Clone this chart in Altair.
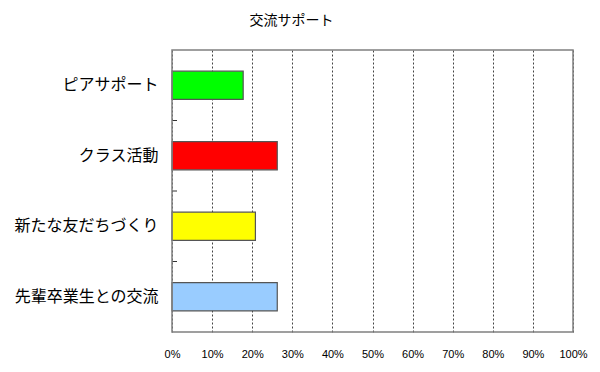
import altair as alt
import pandas as pd

categories = ["ピアサポート", "クラス活動", "新たな友だちづくり", "先輩卒業生との交流"]
values = [0.1775, 0.2625, 0.208, 0.2625]
colors = ["#00FF00", "#FF0000", "#FFFF00", "#99CCFF"]
x_ticks = [i / 10 for i in range(11)]

df = pd.DataFrame({"cat": categories, "val": values, "color": colors})

FONT = "Noto Sans CJK JP"
W, H = 401, 282
P_IN, P_OUT = 0.6, 0.3
STEP = H / (len(categories) - P_IN + 2 * P_OUT)

y_scale = alt.Scale(domain=categories, paddingInner=P_IN, paddingOuter=P_OUT)

y_enc = alt.Y("cat:N", sort=categories, scale=y_scale,
              axis=alt.Axis(title=None, labelFont=FONT, labelFontSize=16,
                            labelColor="#000", labelPadding=14, ticks=False,
                            domain=False, grid=False))

bars = alt.Chart(df).mark_bar(stroke="#555555", strokeWidth=1.2).encode(
    x=alt.X("val:Q", scale=alt.Scale(domain=[0, 1], nice=False),
            axis=alt.Axis(values=x_ticks, format=".0%", title=None,
                          labelFont="Liberation Sans", labelFontSize=11,
                          labelColor="#000", labelPadding=16, ticks=False,
                          labelFlush=False, labelOverlap=False,
                          domain=False, grid=True, gridColor="#444444",
                          gridDash=[2, 2], gridWidth=1)),
    y=y_enc,
    color=alt.Color("color:N", scale=None),
)

# small inward ticks at the category boundaries
band_ticks = alt.Chart(df.iloc[1:]).mark_rule(
    color="#333333", strokeWidth=1, yOffset=-STEP / 2
).encode(
    y=alt.Y("cat:N", sort=categories, scale=y_scale),
    x=alt.value(0),
    x2=alt.value(5),
)

frame = alt.Chart(df.iloc[:1]).mark_rect(
    fill=None, stroke="#808080", strokeWidth=1.5
).encode(
    x=alt.value(0), x2=alt.value(W), y=alt.value(0), y2=alt.value(H)
)

chart = alt.layer(bars, band_ticks, frame).properties(
    width=W,
    height=H,
    background="white",
    padding={"left": 172, "top": 50, "right": 27, "bottom": 40},
    autosize=alt.AutoSizeParams(type="none"),
    title=alt.TitleParams("交流サポート", font=FONT, fontSize=14,
                          fontWeight="normal", color="#000", anchor="middle",
                          dx=-81, offset=21),
).configure_view(stroke=None)

chart.save("out.html", embed_options={"renderer": "svg", "actions": False})
